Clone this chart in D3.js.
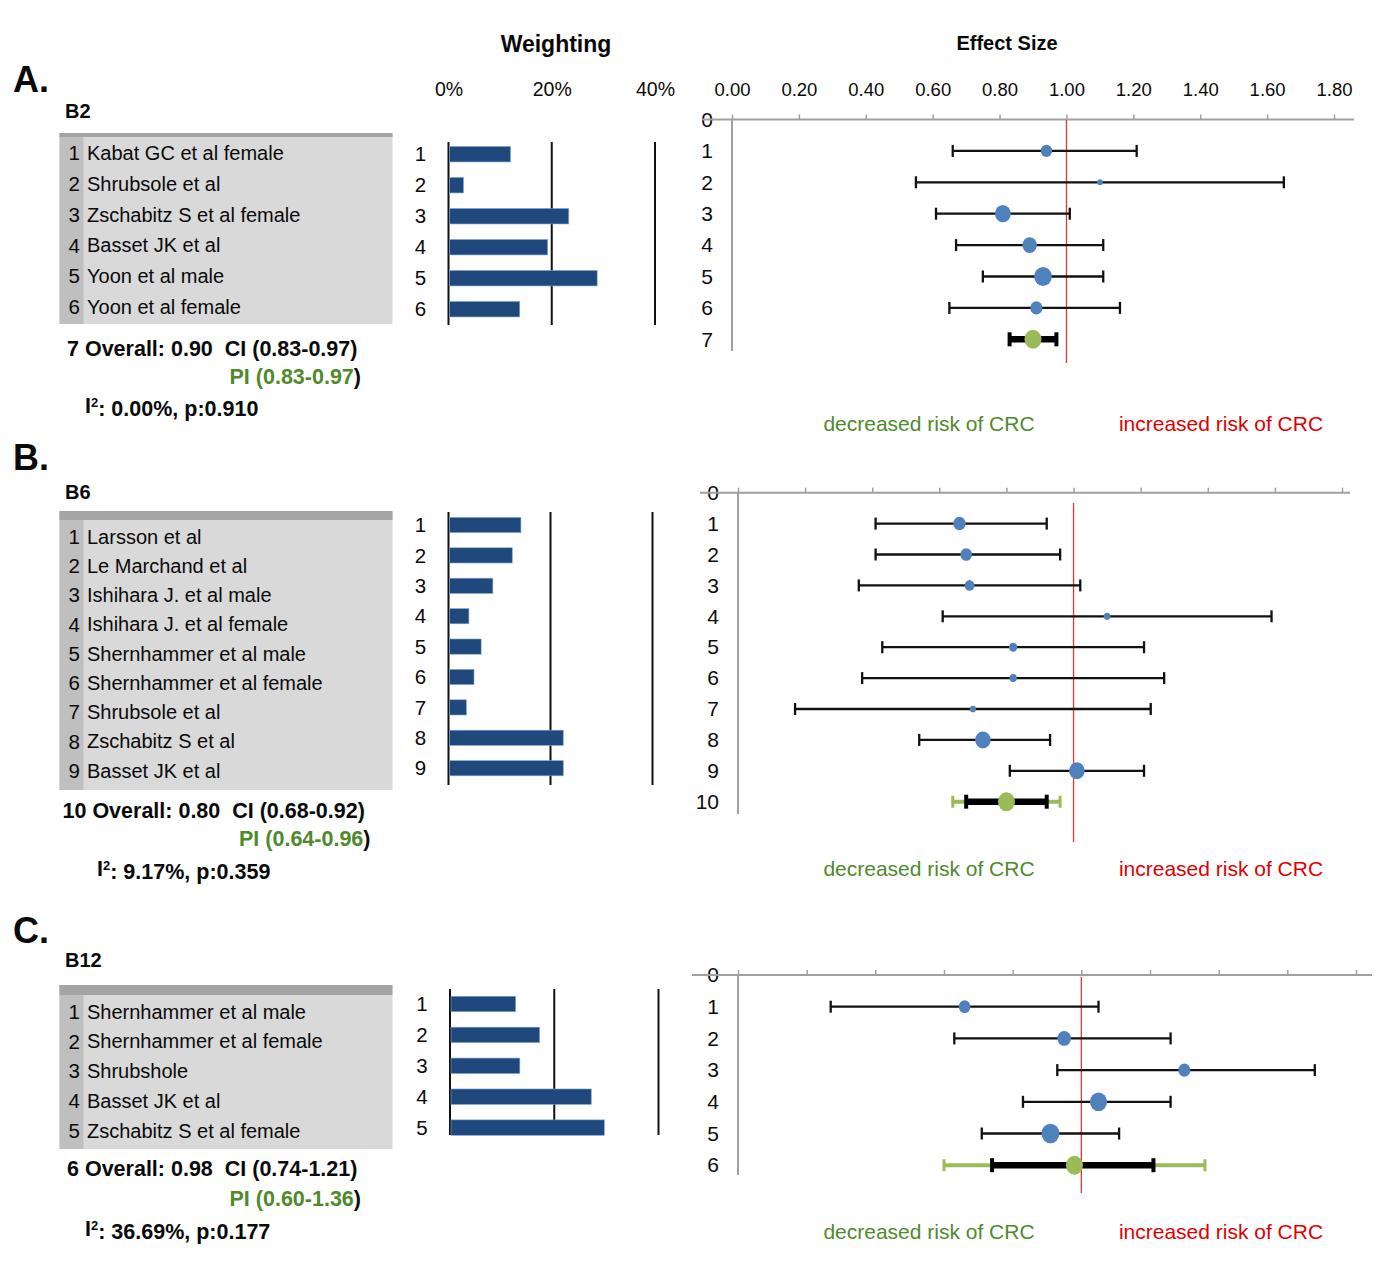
<!DOCTYPE html>
<html>
<head>
<meta charset="utf-8">
<script src="https://cdn.jsdelivr.net/npm/d3@7"></script>
<style>
  body { margin: 0; background: #fff; }
</style>
</head>
<body>
<div id="chart"></div>
<script>
const panelLetters = ["A.", "B.", "C."];
const vitaminNames = ["B2", "B6", "B12"];

const studiesB2 = ["Kabat GC et al female", "Shrubsole et al", "Zschabitz S et al female", "Basset JK et al", "Yoon et al male", "Yoon et al female"];
const weightsB2 = [12.0, 2.9, 23.3, 19.2, 28.8, 13.8];
const esB2 = [0.94, 1.10, 0.81, 0.89, 0.93, 0.91];
const lowB2 = [0.66, 0.55, 0.61, 0.67, 0.75, 0.65];
const highB2 = [1.21, 1.65, 1.01, 1.11, 1.11, 1.16];

const studiesB6 = ["Larsson et al", "Le Marchand et al", "Ishihara J. et al male", "Ishihara J. et al female", "Shernhammer et al male", "Shernhammer et al female", "Shrubsole et al", "Zschabitz S et al", "Basset JK et al"];
const weightsB6 = [14.2, 12.5, 8.7, 4.0, 6.4, 5.0, 3.5, 22.5, 22.5];
const esB6 = [0.66, 0.68, 0.69, 1.10, 0.82, 0.82, 0.70, 0.73, 1.01];
const lowB6 = [0.41, 0.41, 0.36, 0.61, 0.43, 0.37, 0.17, 0.54, 0.81];
const highB6 = [0.92, 0.96, 1.02, 1.59, 1.21, 1.27, 1.23, 0.93, 1.21];

const studiesB12 = ["Shernhammer et al male", "Shernhammer et al female", "Shrubshole", "Basset JK et al", "Zschabitz S et al female"];
const weightsB12 = [12.6, 17.2, 13.4, 27.1, 29.6];
const esB12 = [0.66, 0.95, 1.30, 1.05, 0.91];
const lowB12 = [0.27, 0.63, 0.93, 0.83, 0.71];
const highB12 = [1.05, 1.26, 1.68, 1.26, 1.11];

const overallEs = [0.90, 0.80, 0.98];
const overallCi = [[0.83, 0.97], [0.68, 0.92], [0.74, 1.21]];
const overallPi = [[0.83, 0.97], [0.64, 0.96], [0.60, 1.36]];
const i2Values = ["0.00%", "9.17%", "36.69%"];
const pValues = ["0.910", "0.359", "0.177"];

const esTicks = [0, 0.2, 0.4, 0.6, 0.8, 1.0, 1.2, 1.4, 1.6, 1.8];
const esTickLabels = ["0.00", "0.20", "0.40", "0.60", "0.80", "1.00", "1.20", "1.40", "1.60", "1.80"];
const weightTicks = [0, 20, 40];
const weightTickLabels = ["0%", "20%", "40%"];

const studies = [studiesB2, studiesB6, studiesB12];
const weights = [weightsB2, weightsB6, weightsB12];
const es = [esB2, esB6, esB12];
const lows = [lowB2, lowB6, lowB12];
const highs = [highB2, highB6, highB12];

// page layout for each of the three panels
const layout = [
    { letterY: 92, groupY: 118, table: [133, 324], stripe: 4, rowY0: 153.3, rowStep: 30.7,
      bars: [142, 325], barY0: 154.2, barStep: 31, wX: [448.5, 655],
      axisY: 119.5, esX: [732, 1334], esStep: 31.4, vBottom: 351, red: [120, 363], lineExt: [702, 1354],
      textY: [348, 376, 405], textX: 67, piEnd: 361, i2X: 85, riskY: 424 },
    { letterY: 470, groupY: 499, table: [511, 790], stripe: 9, rowY0: 536.7, rowStep: 29.25,
      bars: [512, 785], barY0: 525, barStep: 30.4, wX: [448.5, 652.5],
      axisY: 492.7, esX: [738, 1342], esStep: 30.9, vBottom: 814, red: [503, 842], lineExt: [700, 1350],
      textY: [810, 838, 868], textX: 62.5, piEnd: 370.5, i2X: 97, riskY: 869 },
    { letterY: 943, groupY: 967, table: [985, 1149], stripe: 10, rowY0: 1011.7, rowStep: 29.75,
      bars: [989, 1135], barY0: 1004, barStep: 30.9, wX: [450, 658.5],
      axisY: 975, esX: [738, 1356], esStep: 31.7, vBottom: 1175, red: [977, 1193], lineExt: [692, 1372],
      textY: [1168, 1198, 1228], textX: 67, piEnd: 361, i2X: 85, riskY: 1232 }
];

const FONT = "'Liberation Sans', Arial, sans-serif";
const barColor = "#1f497d";
const dotColor = "#4f81bd";
const lightGreen = "#9bbb59";
const darkGreen = "#4f8a2b";
const redText = "#e00000";
const axisGray = "#a0a0a0";
const ink = "#0a0a0a";

const W = 1386, H = 1277;

const svg = d3.select("#chart")
    .append("svg")
    .attr("width", W)
    .attr("height", H)
    .style("font-family", FONT)
    .style("background", "#fff");

svg.append("text")
    .attr("x", 556).attr("y", 52)
    .attr("text-anchor", "middle")
    .style("font-size", "23px").style("font-weight", "bold").style("fill", ink)
    .text("Weighting");

svg.append("text")
    .attr("x", 1007).attr("y", 50)
    .attr("text-anchor", "middle")
    .style("font-size", "20px").style("font-weight", "bold").style("fill", ink)
    .text("Effect Size");

const rScale = d3.scaleSqrt().domain([0, 30]).range([0, 9.8]);

function drawPanel(i) {
    const L = layout[i];
    const names = studies[i];
    const n = names.length;
    const g = svg.append("g");

    // panel letter and vitamin
    g.append("text")
        .attr("x", 13).attr("y", L.letterY)
        .style("font-size", "36px").style("font-weight", "bold").style("fill", ink)
        .text(panelLetters[i]);
    g.append("text")
        .attr("x", 65).attr("y", L.groupY)
        .style("font-size", "20px").style("font-weight", "bold").style("fill", ink)
        .text(vitaminNames[i]);

    // study table
    const tw = 333;
    g.append("rect").attr("x", 59.5).attr("y", L.table[0]).attr("width", tw)
        .attr("height", L.table[1] - L.table[0]).attr("fill", "#d9d9d9");
    g.append("rect").attr("x", 59.5).attr("y", L.table[0]).attr("width", 24)
        .attr("height", L.table[1] - L.table[0]).attr("fill", "#bfbfbf");
    g.append("rect").attr("x", 59.5).attr("y", L.table[0]).attr("width", tw)
        .attr("height", L.stripe).attr("fill", "#a5a5a5");

    const yRow = d3.scaleLinear().domain([0, n - 1]).range([L.rowY0, L.rowY0 + (n - 1) * L.rowStep]);
    const rows = g.selectAll(".trow").data(names).enter().append("g").attr("class", "trow");
    rows.append("text")
        .attr("x", 80).attr("y", (d, k) => yRow(k)).attr("dy", "0.35em")
        .attr("text-anchor", "end")
        .style("font-size", "20.5px").style("fill", ink)
        .text((d, k) => k + 1);
    rows.append("text")
        .attr("x", 87).attr("y", (d, k) => yRow(k)).attr("dy", "0.35em")
        .style("font-size", "20px").style("fill", ink)
        .text(d => d);

    // overall summary text
    const ci = overallCi[i], pi = overallPi[i];
    g.append("text")
        .attr("x", L.textX).attr("y", L.textY[0]).attr("dy", "0.35em")
        .style("font-size", "21.5px").style("font-weight", "bold").style("fill", ink)
        .style("white-space", "pre")
        .text(`${n + 1} Overall: ${overallEs[i].toFixed(2)}  CI (${ci[0].toFixed(2)}-${ci[1].toFixed(2)})`);
    const piText = g.append("text")
        .attr("x", L.piEnd).attr("y", L.textY[1]).attr("dy", "0.35em")
        .attr("text-anchor", "end")
        .style("font-size", "21.5px").style("font-weight", "bold");
    piText.append("tspan").style("fill", darkGreen).text(`PI (${pi[0].toFixed(2)}-${pi[1].toFixed(2)}`);
    piText.append("tspan").style("fill", ink).text(")");
    const i2Text = g.append("text")
        .attr("x", L.i2X).attr("y", L.textY[2]).attr("dy", "0.35em")
        .style("font-size", "21.5px").style("font-weight", "bold").style("fill", ink);
    i2Text.append("tspan").text("I");
    i2Text.append("tspan").attr("dy", "-0.45em").style("font-size", "13px").text("2");
    i2Text.append("tspan").attr("dy", "0.45em").text(`: ${i2Values[i]}, p:${pValues[i]}`);

    // weighting bars
    const w = d3.scaleLinear().domain([0, 40]).range(L.wX);
    const yBar = d3.scaleBand()
        .domain(d3.range(1, n + 1))
        .range([L.barY0 - L.barStep / 2, L.barY0 + (n - 0.5) * L.barStep])
        .paddingInner(0.5).paddingOuter(0.25);

    g.selectAll(".wgrid").data(weightTicks).enter().append("line")
        .attr("x1", d => w(d)).attr("x2", d => w(d))
        .attr("y1", L.bars[0]).attr("y2", L.bars[1])
        .attr("stroke", "#111").attr("stroke-width", 2);

    g.selectAll(".bar").data(weights[i]).enter().append("rect")
        .attr("x", w(0) + 1)
        .attr("y", (d, k) => yBar(k + 1))
        .attr("width", d => w(d) - w(0) - 1)
        .attr("height", yBar.bandwidth())
        .attr("fill", barColor)
        .attr("stroke", "#7fa6d6").attr("stroke-width", 0.6);

    g.selectAll(".blabel").data(weights[i]).enter().append("text")
        .attr("x", L.wX[0] - 28)
        .attr("y", (d, k) => yBar(k + 1) + yBar.bandwidth() / 2)
        .attr("dy", "0.35em")
        .attr("text-anchor", "middle")
        .style("font-size", "20.5px").style("fill", ink)
        .text((d, k) => k + 1);

    if (i === 0) {
        g.append("g")
            .attr("transform", "translate(0,96)")
            .call(d3.axisTop(w).tickValues(weightTicks).tickSize(0).tickPadding(0)
                .tickFormat((d, k) => weightTickLabels[k]))
            .call(a => a.select(".domain").remove())
            .call(a => a.selectAll("text").style("font-size", "19.5px").style("fill", ink).style("font-family", FONT));
    }

    // effect size forest plot
    const x = d3.scaleLinear().domain([0, 1.8]).range(L.esX);
    const y = d3.scaleLinear().domain([0, n + 1]).range([L.axisY, L.axisY + (n + 1) * L.esStep]);

    g.append("g")
        .attr("transform", `translate(${L.esX[0]},0)`)
        .call(d3.axisLeft(y).tickValues(d3.range(0, n + 2)).tickSize(0).tickPadding(19).tickFormat(d3.format("d")))
        .call(a => a.select(".domain").remove())
        .call(a => a.selectAll("text").style("font-size", "21px").style("fill", ink).style("font-family", FONT));

    g.append("line")
        .attr("x1", L.lineExt[0]).attr("x2", L.lineExt[1])
        .attr("y1", L.axisY).attr("y2", L.axisY)
        .attr("stroke", axisGray).attr("stroke-width", 2);
    g.append("line")
        .attr("x1", L.esX[0]).attr("x2", L.esX[0])
        .attr("y1", L.axisY).attr("y2", L.vBottom)
        .attr("stroke", axisGray).attr("stroke-width", 2);

    g.append("g")
        .attr("transform", `translate(0,${L.axisY})`)
        .call(d3.axisTop(x).tickValues(esTicks).tickSize(5).tickPadding(19)
            .tickFormat((d, k) => i === 0 ? esTickLabels[k] : ""))
        .call(a => a.select(".domain").remove())
        .call(a => a.selectAll("line").attr("stroke", axisGray).attr("stroke-width", 1.5))
        .call(a => a.selectAll("text").style("font-size", "18.5px").style("fill", ink).style("font-family", FONT));

    g.append("line")
        .attr("x1", x(1)).attr("x2", x(1))
        .attr("y1", L.red[0]).attr("y2", L.red[1])
        .attr("stroke", "#d83a3a").attr("stroke-width", 1.3);

    const rowsData = names.map((d, k) => ({ row: k + 1, es: es[i][k], lo: lows[i][k], hi: highs[i][k], w: weights[i][k] }));
    const eb = g.selectAll(".eb").data(rowsData).enter().append("g");
    eb.append("line")
        .attr("x1", d => x(d.lo)).attr("x2", d => x(d.hi))
        .attr("y1", d => y(d.row)).attr("y2", d => y(d.row))
        .attr("stroke", "#111").attr("stroke-width", 2.3);
    eb.append("line")
        .attr("x1", d => x(d.lo)).attr("x2", d => x(d.lo))
        .attr("y1", d => y(d.row) - 6).attr("y2", d => y(d.row) + 6)
        .attr("stroke", "#111").attr("stroke-width", 2.3);
    eb.append("line")
        .attr("x1", d => x(d.hi)).attr("x2", d => x(d.hi))
        .attr("y1", d => y(d.row) - 6).attr("y2", d => y(d.row) + 6)
        .attr("stroke", "#111").attr("stroke-width", 2.3);
    eb.append("ellipse")
        .attr("cx", d => x(d.es)).attr("cy", d => y(d.row))
        .attr("rx", d => rScale(d.w) * 0.92).attr("ry", d => rScale(d.w))
        .attr("fill", dotColor);

    // overall row: prediction interval, confidence interval, estimate
    const yo = y(n + 1);
    g.append("line")
        .attr("x1", x(pi[0])).attr("x2", x(pi[1])).attr("y1", yo).attr("y2", yo)
        .attr("stroke", lightGreen).attr("stroke-width", 4);
    g.selectAll(".picap").data(pi).enter().append("line")
        .attr("x1", d => x(d)).attr("x2", d => x(d))
        .attr("y1", yo - 6).attr("y2", yo + 6)
        .attr("stroke", lightGreen).attr("stroke-width", 3);
    g.append("line")
        .attr("x1", x(ci[0])).attr("x2", x(ci[1])).attr("y1", yo).attr("y2", yo)
        .attr("stroke", "#000").attr("stroke-width", 6.5);
    g.selectAll(".cicap").data(ci).enter().append("line")
        .attr("x1", d => x(d)).attr("x2", d => x(d))
        .attr("y1", yo - 7).attr("y2", yo + 7)
        .attr("stroke", "#000").attr("stroke-width", 4);
    g.append("ellipse")
        .attr("cx", x(overallEs[i])).attr("cy", yo)
        .attr("rx", 8.5).attr("ry", 9.5)
        .attr("fill", lightGreen);

    g.append("text")
        .attr("x", 929).attr("y", L.riskY).attr("dy", "0.35em")
        .attr("text-anchor", "middle")
        .style("font-size", "21px").style("fill", darkGreen)
        .text("decreased risk of CRC");
    g.append("text")
        .attr("x", 1221).attr("y", L.riskY).attr("dy", "0.35em")
        .attr("text-anchor", "middle")
        .style("font-size", "21px").style("fill", redText)
        .text("increased risk of CRC");
}

[0, 1, 2].forEach(drawPanel);
</script>
</body>
</html>
